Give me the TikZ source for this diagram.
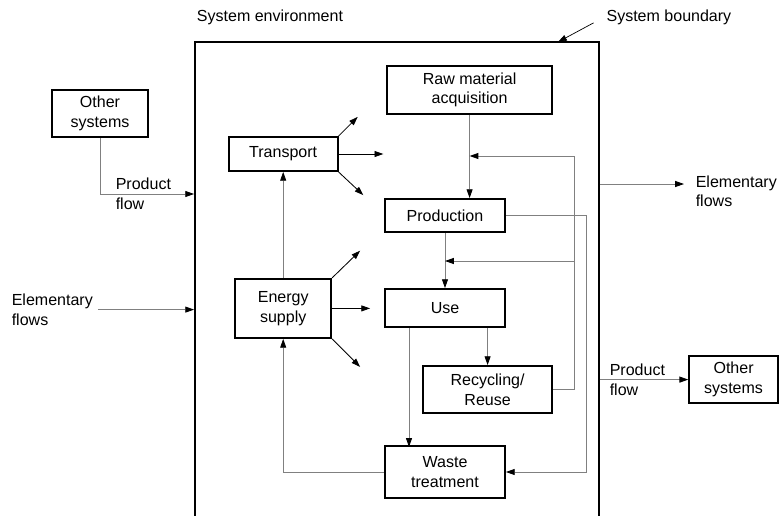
\documentclass[tikz,border=0pt]{standalone}
\usepackage{fontspec}
\setmainfont{Liberation Sans}
\usetikzlibrary{arrows.meta,calc}

\begin{document}
\begin{tikzpicture}[
    box/.style={draw, line width=1.3pt, minimum width=3cm, minimum height=0.85cm, inner sep=0pt, align=center, font=\fontsize{11.4}{13.9}\selectfont},
    lbl/.style={anchor=west, align=left, font=\fontsize{11.4}{13.9}\selectfont},
    flow/.style={-{Triangle[length=2.2mm,width=1.5mm,color=black]}, line width=0.6pt, black!50},
    emit/.style={-{Triangle[length=2.2mm,width=1.5mm]}, line width=0.6pt, black}
]
\useasboundingbox (0,0) rectangle (19.475,-12.9);
\clip (0,0) rectangle (19.475,-12.9);

\node[draw, line width=1.3pt, minimum width=10.1cm, minimum height=12.45cm] (sys) at (9.925,-7.275) {};
\node[font=\fontsize{11.4}{13.9}\selectfont] (env) at (6.75,-0.43) {System environment};
\node[lbl] (sbl) at (15.04,-0.43) {System boundary};
\coordinate (sbtip) at (13.95,-1.05);
\draw[-{Triangle[length=2.2mm,width=1.5mm]}, line width=0.5pt] ([shift={(-0.2,0.17)}]sbl.south west) -- (sbtip);

\node[box, minimum width=2.4cm, minimum height=1.18cm] (otherL) at (2.5,-2.84) {Other\\systems};
\node[lbl] (prodL) at (2.77,-4.85) {Product\\flow};
\node[lbl] (elemL) at (0.17,-7.74) {Elementary\\flows};
\node[lbl] (elemR) at (17.27,-4.78) {Elementary\\flows};
\coordinate (elemRin) at (17.1,-4.6);
\node[lbl] (prodR) at (15.12,-9.5) {Product\\flow};
\node[box, minimum width=2.22cm, minimum height=1.18cm] (otherR) at (18.34,-9.49) {Other\\systems};

\node[box, minimum width=2.72cm] (transport) at (7.08,-3.85) {Transport};
\node[box, minimum width=2.4cm, minimum height=1.48cm] (energy) at (7.08,-7.71) {Energy\\supply};
\node[box, minimum width=4.12cm, minimum height=1.2cm] (raw) at (11.74,-2.25) {Raw material\\acquisition};
\node[box, minimum height=0.83cm] (prod) at (11.125,-5.39) {Production};
\node[box, minimum height=0.95cm] (use) at (11.125,-7.7) {Use};
\node[box, minimum width=3.22cm, minimum height=1.18cm] (recyc) at (12.19,-9.74) {Recycling/\\Reuse};
\node[box, minimum height=1.3cm] (waste) at (11.125,-11.8) {Waste\\treatment};

\coordinate (fbx) at (14.35,-3.9);
\coordinate (fby) at (14.35,-6.525);
\coordinate (pwx) at (14.65,-5.39);

\draw[flow] (otherL.south) |- (sys.west |- prodL.west);
\draw[flow] (elemL.east) -- (sys.west |- elemL.east);
\draw[flow] (sys.east |- elemRin) -- (elemRin);
\draw[flow] (sys.east |- otherR.west) -- (otherR.west);

\draw[flow] (raw.south) -- (raw.south |- prod.north);
\draw[flow] (prod.south) -- (use.north);
\draw[flow] (recyc.north |- use.south) -- (recyc.north);
\draw[flow] ([xshift=-0.9cm]use.south) -- ++(0,-2.975);
\draw[flow] (recyc.east) -| (fbx) -- (fbx -| raw.south);
\draw[flow] (fby) -- (fby -| prod.south);
\draw[flow] (prod.east) -- (pwx) |- (waste.east);
\draw[flow] (waste.west) -| (energy.south);
\draw[flow] (energy.north) -- (transport.south);

\draw[emit] (transport.north east) -- ++(0.48,0.48);
\draw[emit] (transport.east) -- ++(1.12,0);
\draw[emit] (transport.south east) -- ++(0.62,-0.58);
\draw[emit] (energy.north east) -- ++(0.7,0.68);
\draw[emit] (energy.east) -- ++(0.95,0);
\draw[emit] (energy.south east) -- ++(0.7,-0.7);
\end{tikzpicture}
\end{document}
